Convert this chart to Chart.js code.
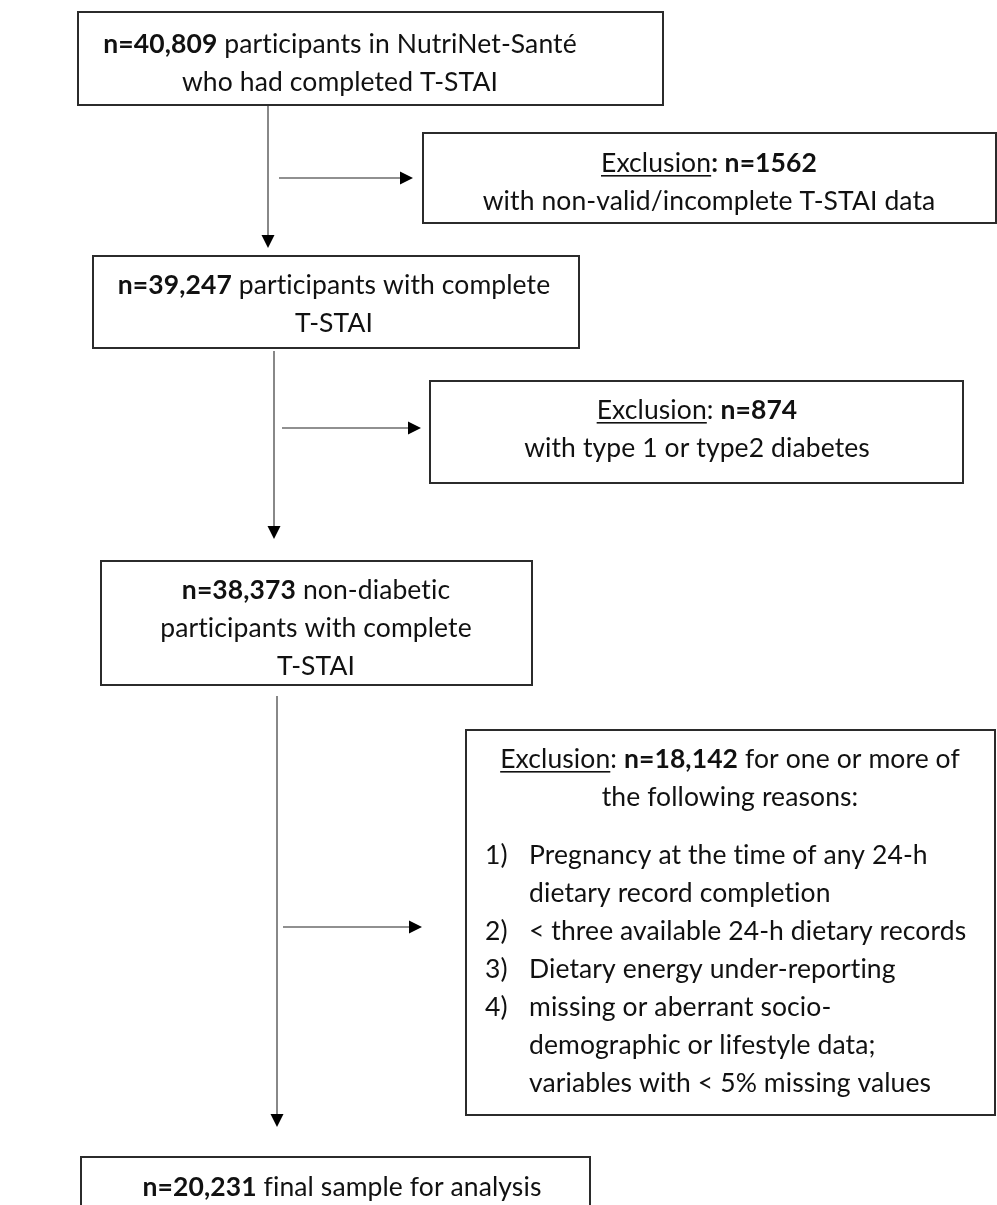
<!DOCTYPE html>
<html>
<head>
<meta charset="utf-8">
<script src="https://cdn.jsdelivr.net/npm/chart.js@4"></script>
<style>
  html, body { margin: 0; padding: 0; background: #fff; }
  #wrap { width: 997px; height: 1205px; }
</style>
</head>
<body>
<div id="wrap"><canvas id="flow"></canvas></div>
<script>
/* Flow chart data — participant counts per step */
const stageCounts = ['40,809', '39,247', '38,373', '20,231'];
const stageTexts = [
  [' participants in NutriNet-Santé', 'who had completed T-STAI'],
  [' participants with complete', 'T-STAI'],
  [' non-diabetic', 'participants with complete', 'T-STAI'],
  [' final sample for analysis'],
];
const exclusionCounts = ['1562', '874', '18,142'];
const exclusionTexts = [
  ['', 'with non-valid/incomplete T-STAI data'],
  ['', 'with type 1 or type2 diabetes'],
  [' for one or more of', 'the following reasons:'],
];
const reasonNumbers = ['1)', '2)', '3)', '4)'];
const reasons = [
  ['Pregnancy at the time of any 24-h', 'dietary record completion'],
  ['< three available 24-h dietary records'],
  ['Dietary energy under-reporting'],
  ['missing or aberrant socio-', 'demographic or lifestyle data;', 'variables with < 5% missing values'],
];

/* Layout in scale units (x: 0..997, y: 0..1205 top-down) */
const FAMILY = 'Lato, "Open Sans", sans-serif';
const FS = 26.5;
const LINE_H = 38;
const stageBoxes = [
  { x0: 78, x1: 663, y0: 12, y1: 105, cx: 340, ty: 44 },
  { x0: 93, x1: 579, y0: 256, y1: 348, cx: 334, ty: 285 },
  { x0: 101, x1: 532, y0: 561, y1: 685, cx: 316, ty: 590 },
  { x0: 81, x1: 590, y0: 1157, y1: 1240, cx: 342, ty: 1187 },
];
const exclBoxes = [
  { x0: 423, x1: 996, y0: 133, y1: 223, cx: 709, ty: 163 },
  { x0: 430, x1: 963, y0: 381, y1: 483, cx: 697, ty: 410 },
  { x0: 466, x1: 995, y0: 730, y1: 1115, cx: 730, ty: 759 },
];
const listLayout = { numX: 485, textX: 529, y: 855 };
const downArrows = [
  { x: 268, y0: 105, y1: 248 },
  { x: 274, y0: 351, y1: 539 },
  { x: 277, y0: 696, y1: 1127 },
];
const sideArrows = [
  { y: 178, x0: 279, x1: 413 },
  { y: 428, x0: 282, x1: 421 },
  { y: 927, x0: 283, x1: 422 },
];

function fnt(bold) { return (bold ? 'bold ' : '') + FS + 'px ' + FAMILY; }

/* draws a line made of segments {t, b (bold), u (underline)} centred on cx */
function drawRich(ctx, segs, cx, cy) {
  let total = 0;
  segs.forEach(s => { ctx.font = fnt(s.b); s.w = ctx.measureText(s.t).width; total += s.w; });
  let x = cx - total / 2;
  segs.forEach(s => {
    ctx.font = fnt(s.b);
    ctx.fillText(s.t, x, cy);
    if (s.u) ctx.fillRect(x, cy + 12, s.w, 1.6);
    x += s.w;
  });
}

const flowPlugin = {
  id: 'flow',
  afterDatasetsDraw(chart) {
    const ctx = chart.ctx;
    const sx = v => chart.scales.x.getPixelForValue(v);
    const sy = v => chart.scales.y.getPixelForValue(v);
    ctx.save();

    /* arrow heads at the ends of the connectors */
    ctx.fillStyle = '#000';
    downArrows.forEach(a => {
      const x = sx(a.x), y = sy(a.y1);
      ctx.beginPath();
      ctx.moveTo(x, y); ctx.lineTo(x - 6.5, y - 13); ctx.lineTo(x + 6.5, y - 13);
      ctx.closePath(); ctx.fill();
    });
    sideArrows.forEach(a => {
      const x = sx(a.x1), y = sy(a.y);
      ctx.beginPath();
      ctx.moveTo(x, y); ctx.lineTo(x - 13, y - 6.5); ctx.lineTo(x - 13, y + 6.5);
      ctx.closePath(); ctx.fill();
    });

    /* boxes */
    ctx.strokeStyle = '#2b2b2b';
    ctx.lineWidth = 2;
    [...stageBoxes, ...exclBoxes].forEach(b => {
      ctx.strokeRect(sx(b.x0), sy(b.y0), sx(b.x1) - sx(b.x0), sy(b.y1) - sy(b.y0));
    });

    ctx.fillStyle = '#111';
    ctx.textBaseline = 'middle';
    ctx.textAlign = 'left';
    if ('letterSpacing' in ctx) ctx.letterSpacing = '0.1px'; // keeps Lato from using its "ti" ligature

    stageBoxes.forEach((b, i) => {
      stageTexts[i].forEach((ln, j) => {
        const segs = j === 0 ? [{ t: 'n=' + stageCounts[i], b: true }, { t: ln }] : [{ t: ln }];
        drawRich(ctx, segs, sx(b.cx), sy(b.ty + j * LINE_H));
      });
    });

    exclBoxes.forEach((b, i) => {
      const lines = exclusionTexts[i];
      const head = i === 0
        ? [{ t: 'Exclusion', u: true }, { t: ': n=' + exclusionCounts[i], b: true }]
        : [{ t: 'Exclusion', u: true }, { t: ': ' }, { t: 'n=' + exclusionCounts[i], b: true }];
      drawRich(ctx, head.concat([{ t: lines[0] }]), sx(b.cx), sy(b.ty));
      lines.slice(1).forEach((ln, j) => {
        drawRich(ctx, [{ t: ln }], sx(b.cx), sy(b.ty + (j + 1) * LINE_H));
      });
    });

    /* numbered reasons */
    ctx.font = fnt(false);
    let row = 0;
    reasons.forEach((r, i) => {
      ctx.fillText(reasonNumbers[i], sx(listLayout.numX), sy(listLayout.y + row * LINE_H));
      r.forEach(ln => {
        ctx.fillText(ln, sx(listLayout.textX), sy(listLayout.y + row * LINE_H));
        row++;
      });
    });
    ctx.restore();
  }
};

const lineDs = pts => ({
  data: pts, showLine: true, pointRadius: 0, borderColor: '#6b6b6b',
  borderWidth: 1.6, fill: false, tension: 0,
});
const datasets = [
  ...downArrows.map(a => lineDs([{ x: a.x, y: a.y0 }, { x: a.x, y: a.y1 - 10 }])),
  ...sideArrows.map(a => lineDs([{ x: a.x0, y: a.y }, { x: a.x1 - 10, y: a.y }])),
];

new Chart(document.getElementById('flow'), {
  type: 'scatter',
  data: { datasets },
  options: {
    responsive: true,
    maintainAspectRatio: false,
    animation: false,
    layout: { padding: 0 },
    plugins: { legend: { display: false }, tooltip: { enabled: false } },
    scales: {
      x: { type: 'linear', min: 0, max: 997, display: false },
      y: { type: 'linear', min: 0, max: 1205, reverse: true, display: false },
    },
  },
  plugins: [flowPlugin],
});
</script>
</body>
</html>
